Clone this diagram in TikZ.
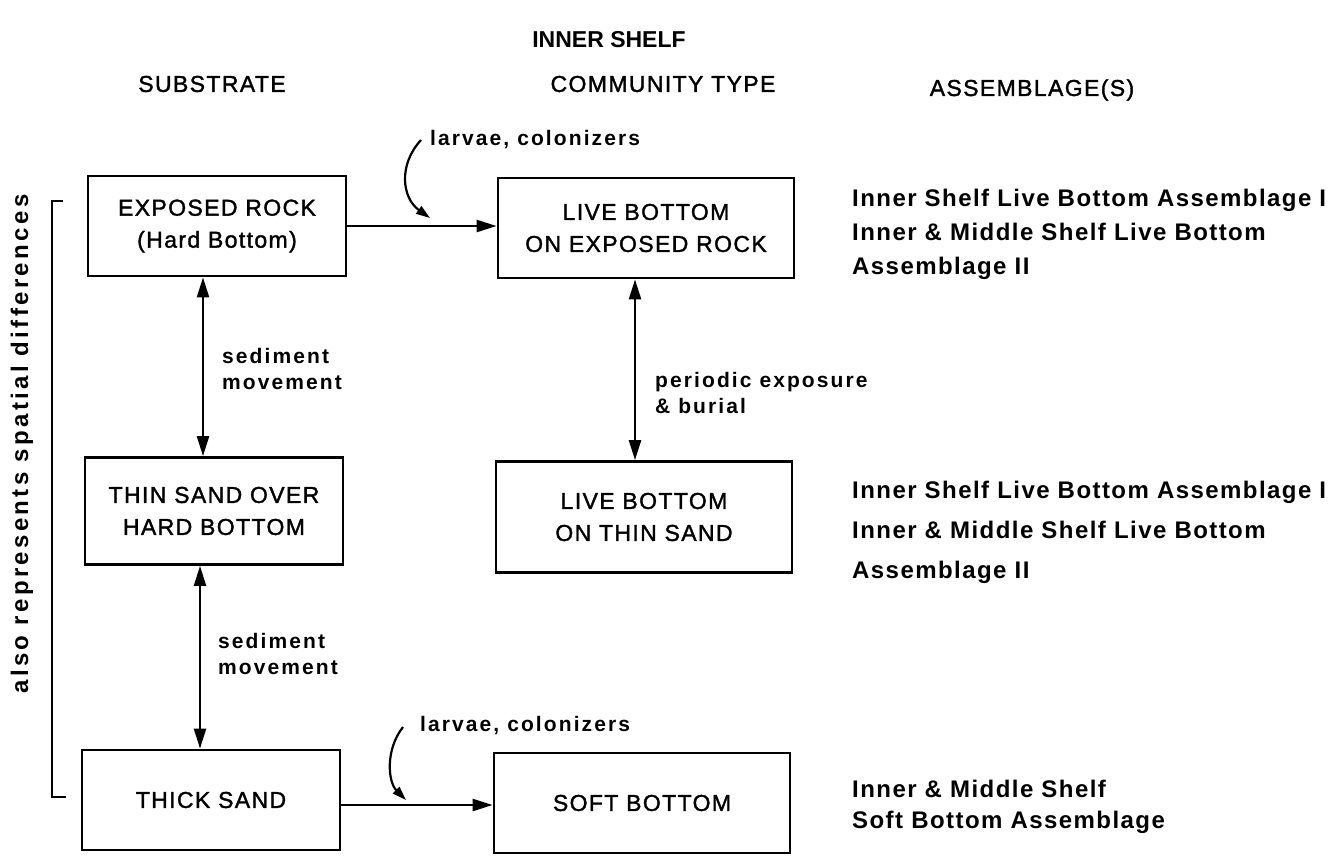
\documentclass[tikz,border=0pt]{standalone}
\usepackage{fontspec}
\setmainfont{Liberation Sans}
\newfontfamily\boxfont{Liberation Sans}[LetterSpace=6,FakeBold=1.5]
\newfontfamily\lblfont{Liberation Sans Bold}[LetterSpace=10]
\newfontfamily\asmfont{Liberation Sans Bold}[LetterSpace=6]
\newfontfamily\spfont{Liberation Sans Bold}[LetterSpace=14]
\usetikzlibrary{arrows.meta,positioning,calc}

\begin{document}
\begin{tikzpicture}[
  x=1pt, y=-1pt,
  every node/.style={inner sep=0pt},
  subbox/.style={draw,line width=2.8pt,minimum width=258pt,minimum height=100pt,
                 align=center,font=\boxfont\fontsize{23}{32}\selectfont},
  combox/.style={subbox,minimum width=296pt},
  header/.style={font=\boxfont\fontsize{23}{27}\selectfont},
  lbl/.style={align=left,font=\lblfont\fontsize{21}{26}\selectfont},
  asm/.style={align=left,anchor=west},
  arr/.style={-{Triangle[length=20pt,width=12pt]},line width=2.4pt},
  dblarr/.style={{Triangle[length=20pt,width=12pt]}-{Triangle[length=20pt,width=12pt]},line width=2.4pt},
  curvarr/.style={-{Triangle[length=14pt,width=9pt]},line width=2.2pt},
]
  \useasboundingbox (0,0) rectangle (1342,855);

  % Headings
  \node[font=\bfseries\fontsize{23}{27}\selectfont] (title) at (609,40) {INNER SHELF};
  \node[header] (hsub) at (212,84) {SUBSTRATE};
  \node[header] (hcom) at (663,84) {COMMUNITY TYPE};
  \node[header] (hasm) at (1032,90) {ASSEMBLAGE(S)};

  % Substrate column
  \node[subbox] (rock) at (217,226) {EXPOSED ROCK\\(Hard Bottom)};
  \node[subbox,minimum height=107pt] (thin) at (214,511) {THIN SAND OVER\\HARD BOTTOM};
  \node[subbox] (thick) at (211,800) {THICK SAND};

  % Community column
  \node[combox] (lbrock) at (646,228) {LIVE BOTTOM\\ON EXPOSED ROCK};
  \node[combox,minimum height=111pt] (lbthin) at (644,517) {LIVE BOTTOM\\ON THIN SAND};
  \node[combox] (soft) at (642,803) {SOFT BOTTOM};

  % Assemblages
  \node[asm,font=\asmfont\fontsize{24}{34}\selectfont] (asm1) at (852,234)
    {Inner Shelf Live Bottom Assemblage I\\Inner \& Middle Shelf Live Bottom\\Assemblage II};
  \node[asm,font=\asmfont\fontsize{24}{40}\selectfont] (asm2) at (852,532)
    {Inner Shelf Live Bottom Assemblage I\\Inner \& Middle Shelf Live Bottom\\Assemblage II};
  \node[asm,font=\asmfont\fontsize{24}{31}\selectfont] (asm3) at (852,807)
    {Inner \& Middle Shelf\\Soft Bottom Assemblage};

  % Arrows
  \draw[arr] (rock.east) -- (rock.east -| lbrock.west);
  \draw[arr] ([yshift=-5pt]thick.east) -- ([yshift=-5pt]thick.east -| soft.west);
  \draw[dblarr] ([xshift=-14pt]rock.south) -- ([xshift=-14pt]rock.south |- thin.north);
  \draw[dblarr] ([xshift=-11pt]lbrock.south) -- ([xshift=-11pt]lbrock.south |- lbthin.north);
  \draw[dblarr] ([xshift=-14pt]thin.south) -- ([xshift=-14pt]thin.south |- thick.north);

  % Labels
  \node[lbl,anchor=west] (col1) at (430,140) {larvae, colonizers};
  \node[lbl,anchor=west] (col2) at (420,726) {larvae, colonizers};
  \node[lbl,anchor=west] (sed1) at (222,369) {sediment\\movement};
  \node[lbl,anchor=west] (sed2) at (218,654) {sediment\\movement};
  \node[lbl,anchor=west] (burial) at (655,393) {periodic exposure\\\& burial};

  % Curved arrows
  \coordinate (c1a) at (421,140);
  \coordinate (c1b) at (430,218);
  \coordinate (c2a) at (403,727);
  \coordinate (c2b) at (406,800);
  \draw[curvarr] (c1a) .. controls (398,165) and (402,198) .. (c1b);
  \draw[curvarr] (c2a) .. controls (385,750) and (388,782) .. (c2b);

  % Bracket
  \coordinate (brtop) at (63,201);
  \coordinate (brbot) at (66,797);
  \draw[line width=2pt] (brtop) -- ++(-11,0) |- (brbot);
  \node[rotate=90,font=\spfont\fontsize{24}{28}\selectfont] (spatial) at (22,444) {also represents spatial differences};
\end{tikzpicture}
\end{document}
